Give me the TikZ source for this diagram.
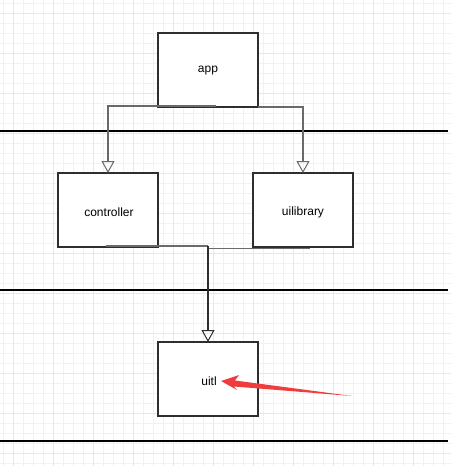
\documentclass[tikz,border=0pt]{standalone}
\usepackage{fontspec}
\setmainfont{Liberation Sans}
\usetikzlibrary{arrows.meta}
\definecolor{gridc}{HTML}{F1EFF8}
\definecolor{gridm}{HTML}{E9E5F5}
\definecolor{boxc}{HTML}{2E2E2E}
\definecolor{connc}{HTML}{6A6A6A}
\definecolor{redc}{HTML}{F03C3C}
\begin{document}
\begin{tikzpicture}[x=1pt,y=-1pt,
  box/.style={draw=boxc,line width=2pt,fill=white,minimum width=100pt,minimum height=74pt,inner sep=0pt,outer sep=0pt,font=\fontsize{12pt}{14pt}\selectfont,anchor=north west},
  conn/.style={draw=connc,line width=1.5pt,-{Triangle[open,length=12pt,width=13pt,line width=1pt]}},
  sep/.style={draw=black,line width=2pt}]
\useasboundingbox (0,0) rectangle (451,466);
\fill[white] (0,0) rectangle (451,466);
\foreach \i in {0,...,45} {
  \draw[gridc,line width=0.8pt] (3+10*\i,0) -- (3+10*\i,466);
}
\foreach \i in {0,...,46} {
  \draw[gridc,line width=0.8pt] (0,3+10*\i) -- (451,3+10*\i);
}
\foreach \i in {0,...,11} {
  \draw[gridm,line width=0.9pt] (13+40*\i,0) -- (13+40*\i,466);
  \draw[gridm,line width=0.9pt] (0,13+40*\i) -- (451,13+40*\i);
}
\coordinate (l1a) at (0,131); \coordinate (l1b) at (448,131);
\coordinate (l2a) at (0,290); \coordinate (l2b) at (448,290);
\coordinate (l3a) at (0,441); \coordinate (l3b) at (448,441);
\draw[sep] (l1a) -- (l1b);
\draw[sep] (l2a) -- (l2b);
\draw[sep] (l3a) -- (l3b);
\node[box] (app) at (158,33) {};
\node[font=\fontsize{12pt}{14pt}\selectfont] (apptext) at (208,71) {app};
\node[box] (controller) at (58,173) {};
\node[font=\fontsize{12pt}{14pt}\selectfont] (ctext) at (109,212) {controller};
\node[box] (uilibrary) at (253,173) {};
\node[font=\fontsize{12pt}{14pt}\selectfont] (utext) at (303,212) {uilibrary};
\node[box] (uitl) at (158,342) {};
\node[font=\fontsize{12pt}{14pt}\selectfont] (uitltext) at (209,381) {uitl};
\coordinate (a1) at (216,106);
\coordinate (a2) at (258,107);
\draw[conn] (a1) -| (controller.north);
\draw[conn] (a2) -| (uilibrary.north);
\coordinate (c1) at (106,246);
\coordinate (u1) at (310,248.5);
\coordinate (join) at (208,246);
\draw[connc,line width=1.5pt] (c1) -- (join);
\draw[connc,line width=1.5pt] (u1) -- (208,248.5);
\draw[boxc,line width=2pt,-{Triangle[open,length=12pt,width=13pt,line width=1pt]}] (join) -- (uitl.north);
\fill[redc] (221,381) -- (239,375) -- (235,380.5) -- (352,396) -- (234,386.5) -- (237,390) -- cycle;
\end{tikzpicture}
\end{document}
